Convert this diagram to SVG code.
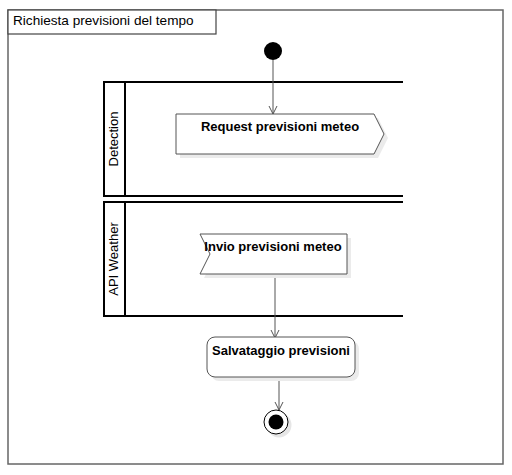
<svg xmlns="http://www.w3.org/2000/svg" width="512" height="475" viewBox="0 0 512 475">
<style>
text{font-family:"Liberation Sans",Arial,sans-serif;fill:#000}
.t{font-size:13px;font-weight:bold;text-anchor:middle}
.lbl{font-size:13px;text-anchor:middle}
.lane{fill:none;stroke:#000;stroke-width:2}
.node{fill:#fff;stroke:#555;stroke-width:1}
.sh{fill:#ebebeb;stroke:none}
.edge{fill:none;stroke:#555;stroke-width:1}
</style>
<defs>
<marker id="arr" markerWidth="10" markerHeight="10" refX="9" refY="5" orient="auto" markerUnits="userSpaceOnUse">
<path d="M1,1 L9,5 L1,9" fill="none" stroke="#555" stroke-width="1"/>
</marker>
</defs>
<rect width="512" height="475" fill="#fff"/>
<g id="frame">
<rect x="8" y="10" width="495" height="454" fill="#fff" stroke="#666" stroke-width="1.5"/>
<rect x="8" y="10" width="208" height="24" fill="#fff" stroke="#444" stroke-width="1.2"/>
<text x="13" y="25" font-size="13.6">Richiesta previsioni del tempo</text>
</g>
<g id="lane-detection">
<path class="lane" d="M403,82 H104 V196 H403 M125,82 V196"/>
<text class="lbl" transform="translate(118,139) rotate(-90)">Detection</text>
</g>
<g id="lane-api">
<path class="lane" d="M403,202 H104 V316 H403 M125,202 V316"/>
<text class="lbl" transform="translate(118,259) rotate(-90)">API Weather</text>
</g>
<g id="connectors">
<path class="edge" d="M273,60 V114" marker-end="url(#arr)"/>
<path class="edge" d="M275,274 V338" marker-end="url(#arr)"/>
<path class="edge" d="M279,377 V410" marker-end="url(#arr)"/>
</g>
<g id="start">
<circle cx="273" cy="51" r="9" fill="#000"/>
</g>
<g id="request">
<path class="sh" d="M180,118 H378 L388,138 L378,158 H180 Z"/>
<path class="node" d="M176,114 H374 L384,134 L374,154 H176 Z"/>
<text class="t" x="280" y="131">Request previsioni meteo</text>
</g>
<g id="invio">
<path class="sh" d="M204,238 H351 V278 H204 L214,258 Z"/>
<path class="node" d="M200,234 H347 V274 H200 L210,254 Z"/>
<text class="t" x="273" y="251">Invio previsioni meteo</text>
</g>
<g id="salvataggio">
<rect class="sh" x="211" y="341" width="148" height="40" rx="8"/>
<rect class="node" x="207" y="337" width="148" height="40" rx="8"/>
<text class="t" x="281" y="355">Salvataggio previsioni</text>
</g>
<g id="end">
<circle cx="279" cy="425" r="12.5" fill="#e6e6e6"/>
<circle cx="276" cy="422" r="12" fill="#fff" stroke="#000" stroke-width="1"/>
<circle cx="276" cy="422" r="7.5" fill="#000"/>
</g>
</svg>
